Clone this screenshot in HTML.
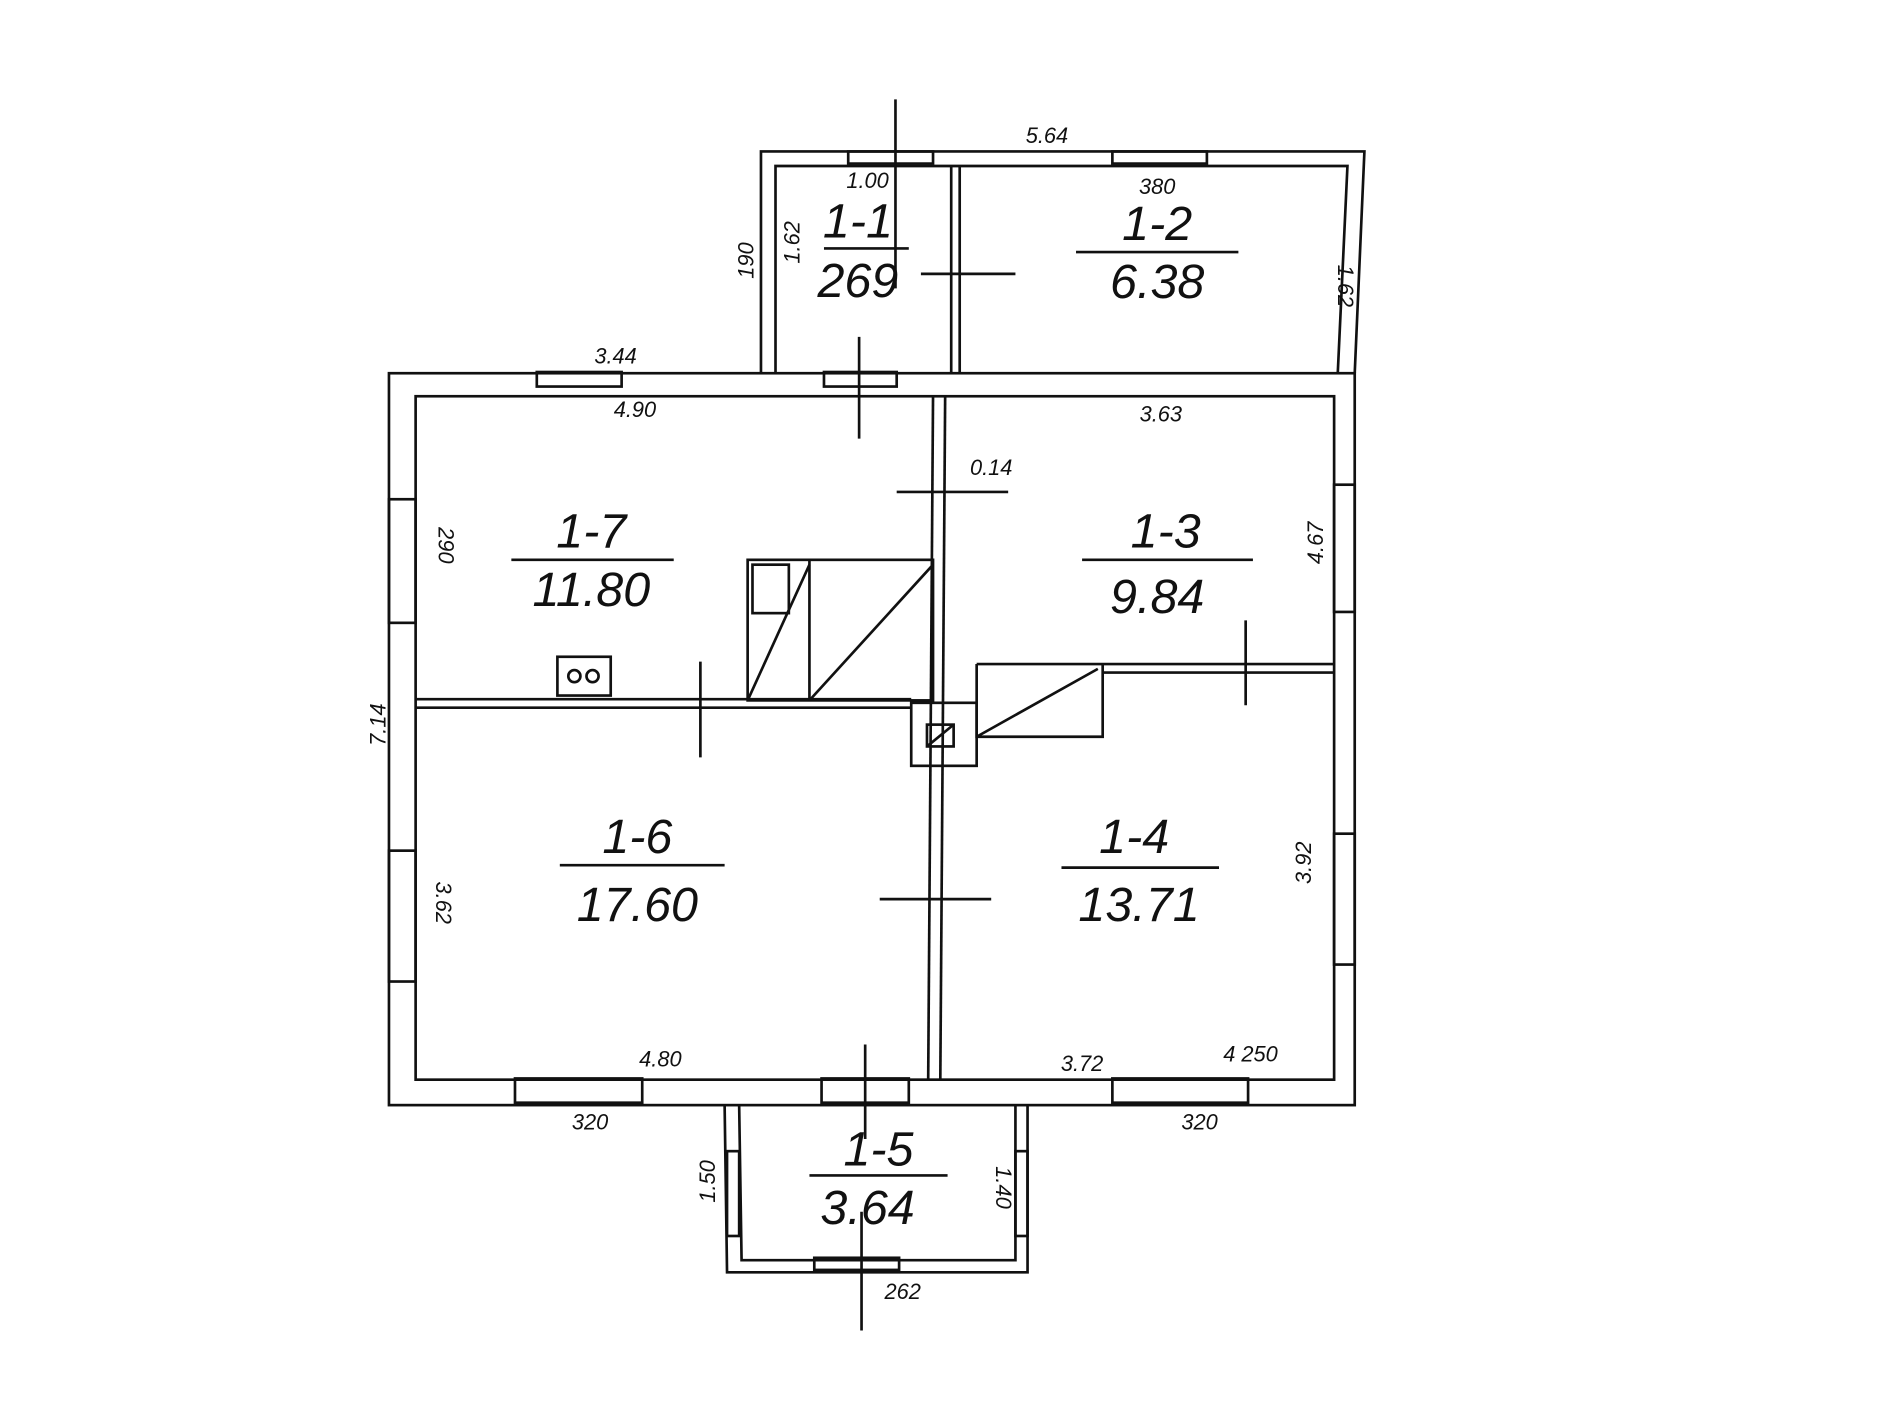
<!DOCTYPE html>
<html><head><meta charset="utf-8"><style>html,body{margin:0;padding:0;background:#fff}svg{display:block}</style></head>
<body>
<svg width="1900" height="1402" viewBox="0 0 1568 1157" preserveAspectRatio="none" xmlns="http://www.w3.org/2000/svg" font-family="Liberation Sans, sans-serif">
<rect width="1568" height="1157" fill="#fff"/>
<g stroke="#111" stroke-width="2.2" fill="none">
<!-- main building outer/inner -->
<rect x="321" y="308" width="797" height="604"/>
<rect x="343" y="327" width="758" height="564"/>
<!-- top annex -->
<polyline points="628,308 628,125 1126,125 1118,308"/>
<polyline points="640,308 640,137 1112,137 1104,308"/>
<!-- annex divider -->
<line x1="785" y1="137" x2="785" y2="308"/><line x1="792" y1="137" x2="792" y2="308"/>
<!-- bottom porch -->
<polyline points="598,912 600,1050 848,1050 848,912"/>
<polyline points="610,912 612,1040 838,1040 838,912"/>
<!-- interior vertical wall -->
<line x1="770" y1="327" x2="766" y2="891"/><line x1="780" y1="327" x2="776" y2="891"/>
<!-- horizontal wall left -->
<line x1="343" y1="577" x2="752" y2="577"/><line x1="343" y1="584" x2="752" y2="584"/>
<!-- horizontal wall right -->
<line x1="806" y1="548" x2="1101" y2="548"/><line x1="910" y1="555" x2="1101" y2="555"/>
<!-- chimney -->
<rect x="752" y="580" width="54" height="52"/>
<rect x="765" y="598" width="22" height="18"/>
<line x1="765" y1="616" x2="787" y2="598"/>
<!-- stair 1-7 -->
<rect x="617" y="462" width="153" height="116"/>
<line x1="668" y1="462" x2="668" y2="578"/>
<line x1="668" y1="578" x2="770" y2="466"/>
<line x1="617" y1="578" x2="668" y2="466"/>
<rect x="621" y="466" width="30" height="40"/>
<!-- stair 1-3 -->
<polyline points="806,548 806,608 910,608 910,548"/>
<line x1="806" y1="608" x2="906" y2="552"/>
<!-- stove -->
<rect x="460" y="542" width="44" height="32"/>
<circle cx="474" cy="558" r="5"/><circle cx="489" cy="558" r="5"/>
<!-- windows top -->
<rect x="443" y="307" width="70" height="12"/>
<rect x="680" y="307" width="60" height="12"/>
<rect x="700" y="125" width="70" height="10"/>
<rect x="918" y="125" width="78" height="10"/>
<!-- windows bottom -->
<rect x="425" y="890" width="105" height="20"/>
<rect x="918" y="890" width="112" height="20"/>
<rect x="678" y="890" width="72" height="20"/>
<rect x="672" y="1038" width="70" height="10"/>
<!-- windows sides -->
<rect x="321" y="412" width="22" height="102"/>
<rect x="321" y="702" width="22" height="108"/>
<rect x="1101" y="400" width="17" height="105"/>
<rect x="1101" y="688" width="17" height="108"/>
<rect x="600" y="950" width="10" height="70"/>
<rect x="838" y="950" width="10" height="70"/>
<!-- cut lines / door marks -->
<line x1="739" y1="82" x2="739" y2="238"/>
<line x1="760" y1="226" x2="838" y2="226"/>
<line x1="709" y1="278" x2="709" y2="362"/>
<line x1="740" y1="406" x2="832" y2="406"/>
<line x1="578" y1="546" x2="578" y2="625"/>
<line x1="1028" y1="512" x2="1028" y2="582"/>
<line x1="726" y1="742" x2="818" y2="742"/>
<line x1="714" y1="862" x2="714" y2="940"/>
<line x1="711" y1="1000" x2="711" y2="1098"/>
<!-- name underlines -->
<line x1="680" y1="205" x2="750" y2="205"/>
<line x1="888" y1="208" x2="1022" y2="208"/>
<line x1="422" y1="462" x2="556" y2="462"/>
<line x1="893" y1="462" x2="1034" y2="462"/>
<line x1="462" y1="714" x2="598" y2="714"/>
<line x1="876" y1="716" x2="1006" y2="716"/>
<line x1="668" y1="970" x2="782" y2="970"/>
</g>
<g fill="#111" font-style="italic">
<g font-size="40" text-anchor="middle">
<text x="708" y="196">1-1</text><text x="708" y="245">269</text>
<text x="955" y="198">1-2</text><text x="955" y="246">6.38</text>
<text x="488" y="452">1-7</text><text x="488" y="500">11.80</text>
<text x="962" y="452">1-3</text><text x="955" y="506">9.84</text>
<text x="526" y="704">1-6</text><text x="526" y="760">17.60</text>
<text x="936" y="704">1-4</text><text x="940" y="760">13.71</text>
<text x="725" y="962">1-5</text><text x="716" y="1010">3.64</text>
</g>
<g font-size="18" text-anchor="middle">
<text x="864" y="118">5.64</text><text x="716" y="155">1.00</text><text x="955" y="160">380</text>
<text x="508" y="300">3.44</text><text x="524" y="344">4.90</text><text x="958" y="348">3.63</text>
<text x="818" y="392">0.14</text>
<text x="545" y="880">4.80</text><text x="893" y="884">3.72</text><text x="1032" y="876">4 250</text>
<text x="487" y="932">320</text><text x="990" y="932">320</text><text x="745" y="1072">262</text>
<text transform="translate(622,215) rotate(-90)">190</text>
<text transform="translate(660,200) rotate(-90)">1.62</text>
<text transform="translate(1104,236) rotate(90)">1.62</text>
<text transform="translate(362,450) rotate(90)">290</text>
<text transform="translate(318,598) rotate(-90)">7.14</text>
<text transform="translate(360,745) rotate(90)">3.62</text>
<text transform="translate(1092,448) rotate(-90)">4.67</text>
<text transform="translate(1082,712) rotate(-90)">3.92</text>
<text transform="translate(590,975) rotate(-90)">1.50</text>
<text transform="translate(822,980) rotate(90)">1.40</text>
</g>
</g>
</svg>
</body></html>
